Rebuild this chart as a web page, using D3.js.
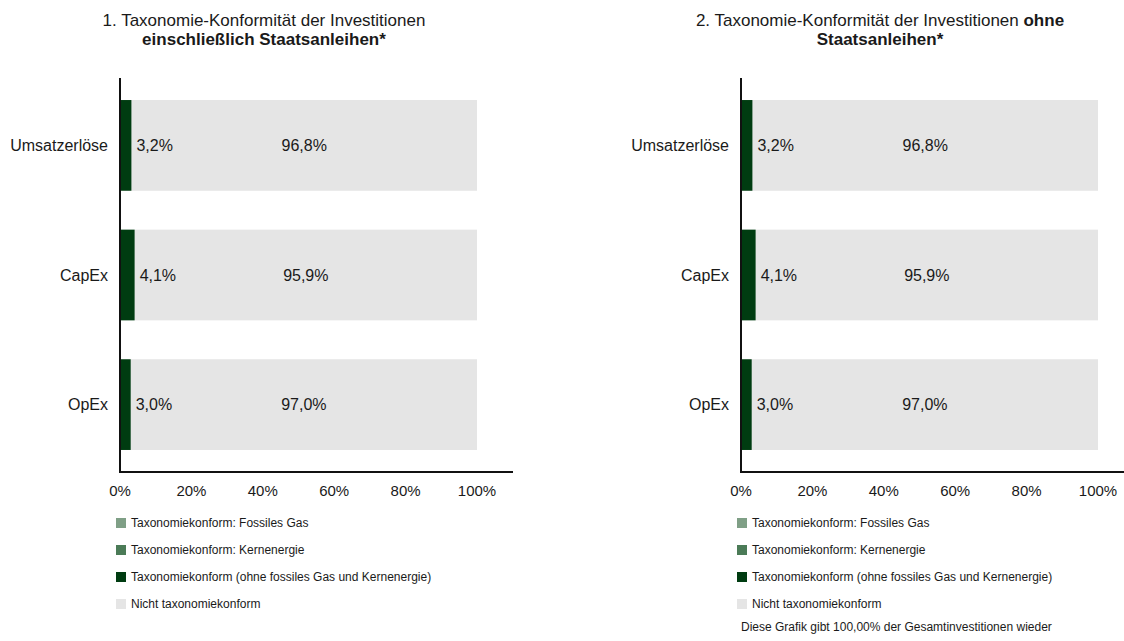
<!DOCTYPE html>
<html>
<head>
<meta charset="utf-8">
<script src="https://cdn.jsdelivr.net/npm/d3@7"></script>
<style>
  body { margin: 0; background: #fff; }
  text { font-family: "Liberation Sans", Arial, sans-serif; fill: #1a1a1a; }
</style>
</head>
<body>
<div id="chart"></div>
<script>
const categories = ["Umsatzerlöse", "CapEx", "OpEx"];
const alignedIncl = [3.2, 4.1, 3.0];
const notAlignedIncl = [96.8, 95.9, 97.0];
const alignedExcl = [3.2, 4.1, 3.0];
const notAlignedExcl = [96.8, 95.9, 97.0];
const tickValues = [0, 20, 40, 60, 80, 100];
const legendLabels = [
    "Taxonomiekonform: Fossiles Gas",
    "Taxonomiekonform: Kernenergie",
    "Taxonomiekonform (ohne fossiles Gas und Kernenergie)",
    "Nicht taxonomiekonform"
];
const legendColors = ["#7f9f86", "#4b7b57", "#003c11", "#e5e5e5"];

const width = 1124, height = 641;
const svg = d3.select("#chart").append("svg")
    .attr("width", width)
    .attr("height", height);

const fmt = v => d3.format(".1f")(v).replace(".", ",") + "%";

// one panel = one stacked bar chart
function drawPanel(ox, title, aligned, notAligned, titleCx) {
    const g = svg.append("g").attr("transform", `translate(${ox},0)`);

    const x = d3.scaleLinear().domain([0, 100]).range([120, 477]);
    const y = d3.scaleBand().domain(categories).range([78, 472])
        .paddingInner(0.3).paddingOuter(0.17);

    const rows = categories.map((c, i) => ({ cat: c, a: aligned[i], n: notAligned[i] }));

    // title
    const t = g.append("text")
        .attr("text-anchor", "middle")
        .style("font-size", "17px");
    title.forEach((line, li) => {
        const tl = t.append("tspan").attr("x", titleCx).attr("y", 26 + li * 19);
        line.forEach(part => tl.append("tspan")
            .style("font-weight", part.bold ? "bold" : "normal")
            .text(part.t));
    });

    // bars
    g.selectAll("rect.na").data(rows).enter().append("rect")
        .attr("class", "na")
        .attr("x", d => x(d.a))
        .attr("y", d => y(d.cat))
        .attr("width", d => x(d.a + d.n) - x(d.a))
        .attr("height", y.bandwidth())
        .attr("fill", legendColors[3]);

    g.selectAll("rect.al").data(rows).enter().append("rect")
        .attr("class", "al")
        .attr("x", x(0))
        .attr("y", d => y(d.cat))
        .attr("width", d => x(d.a) - x(0))
        .attr("height", y.bandwidth())
        .attr("fill", legendColors[2]);

    // value labels
    g.selectAll("text.va").data(rows).enter().append("text")
        .attr("x", d => x(d.a) + 5)
        .attr("y", d => y(d.cat) + y.bandwidth() / 2)
        .attr("dy", "0.35em")
        .style("font-size", "16px")
        .text(d => fmt(d.a));

    g.selectAll("text.vn").data(rows).enter().append("text")
        .attr("x", d => (x(d.a) + x(d.a + d.n)) / 2)
        .attr("y", d => y(d.cat) + y.bandwidth() / 2)
        .attr("dy", "0.35em")
        .attr("text-anchor", "middle")
        .style("font-size", "16px")
        .text(d => fmt(d.n));

    // category labels
    g.selectAll("text.cat").data(categories).enter().append("text")
        .attr("x", 108)
        .attr("y", d => y(d) + y.bandwidth() / 2)
        .attr("dy", "0.35em")
        .attr("text-anchor", "end")
        .style("font-size", "16px")
        .text(d => d);

    // axes lines
    g.append("line").attr("x1", 120).attr("x2", 120).attr("y1", 78).attr("y2", 473)
        .attr("stroke", "#111").attr("stroke-width", 2);
    g.append("line").attr("x1", 119).attr("x2", 513).attr("y1", 472).attr("y2", 472)
        .attr("stroke", "#111").attr("stroke-width", 2);

    // tick labels
    g.selectAll("text.tick").data(tickValues).enter().append("text")
        .attr("x", d => x(d))
        .attr("y", 496)
        .attr("text-anchor", "middle")
        .style("font-size", "15px")
        .text(d => d + "%");

    // legend
    const lg = g.selectAll("g.leg").data(legendLabels).enter().append("g")
        .attr("transform", (d, i) => `translate(116, ${523 + i * 27})`);
    lg.append("rect").attr("x", 0).attr("y", -5).attr("width", 10).attr("height", 10)
        .attr("fill", (d, i) => legendColors[i]);
    lg.append("text").attr("x", 15).attr("dy", "0.35em")
        .style("font-size", "12px")
        .text(d => d);

    return g;
}

drawPanel(0,
    [[{ t: "1. Taxonomie-Konformität der Investitionen" }],
     [{ t: "einschließlich Staatsanleihen*", bold: true }]],
    alignedIncl, notAlignedIncl, 264);

const right = drawPanel(621,
    [[{ t: "2. Taxonomie-Konformität der Investitionen " }, { t: "ohne", bold: true }],
     [{ t: "Staatsanleihen*", bold: true }]],
    alignedExcl, notAlignedExcl, 259);

right.append("text")
    .attr("x", 120)
    .attr("y", 631)
    .style("font-size", "12px")
    .text("Diese Grafik gibt 100,00% der Gesamtinvestitionen wieder");
</script>
</body>
</html>
